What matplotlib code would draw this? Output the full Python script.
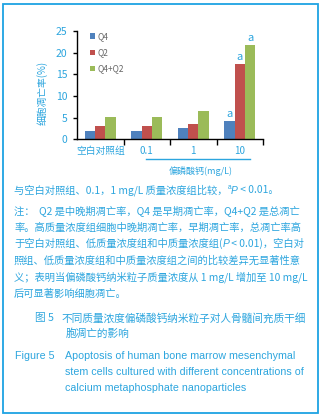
import matplotlib
matplotlib.use('Agg')
import matplotlib.pyplot as plt
import numpy as np

plt.rcParams['font.family'] = ['Noto Sans CJK SC', 'DejaVu Sans']

groups = ['空白对照组', '0.1', '1', '10']
series = ['Q4', 'Q2', 'Q4+Q2']
q4 = [2.0, 1.9, 2.7, 4.2]
q2 = [3.0, 3.0, 3.6, 17.3]
total = [5.2, 5.2, 6.6, 21.7]
y_ticks = [0, 5, 10, 15, 20, 25]
sig_marks = [(3, 0), (3, 1), (3, 2)]  # (group, series) with "a"

blue = '#2ca5de'
colors = ['#4f81bd', '#c0504d', '#9bbb59']

W, H = 322, 416
fig = plt.figure(figsize=(W / 100, H / 100), dpi=100)

# background layer in pixel coordinates
bg = fig.add_axes([0, 0, 1, 1])
bg.set_xlim(0, W)
bg.set_ylim(H, 0)
bg.axis('off')
bg.add_patch(plt.Rectangle((3, 3.5), 315.5, 409.5, fill=False,
                           edgecolor='#1ea3e3', linewidth=1.3))

ax = fig.add_axes([77 / W, 1 - 139.3 / H, 186 / W, 108.3 / H])
x = np.arange(len(groups))
bw = 0.224
vals = [q4, q2, total]
for i, (name, v) in enumerate(zip(series, vals)):
    ax.bar(x + (i - 1) * bw, v, bw, color=colors[i], label=name)
for g, s in sig_marks:
    ax.text(x[g] + (s - 1) * bw, vals[s][g] + 0.6, 'a', ha='center',
            va='bottom', color=blue, fontsize=8)

ax.set_xlim(-0.5, 3.5)
ax.set_ylim(0, 25)
ax.set_yticks(y_ticks)
ax.set_yticklabels([str(t) for t in y_ticks], color=blue, fontsize=7.5)
ax.set_xticks(x)
ax.set_xticklabels(groups, color=blue, fontsize=7)
ax.set_xticks(np.arange(0.5, 4, 1), minor=True)
ax.tick_params(axis='x', which='major', length=0, pad=5)
ax.tick_params(axis='x', which='minor', length=4, width=1, direction='out')
ax.tick_params(axis='y', length=3, width=1, direction='out', pad=4)
for sp in ['top', 'right']:
    ax.spines[sp].set_visible(False)
for sp in ['left', 'bottom']:
    ax.spines[sp].set_linewidth(1)
ax.set_ylabel('细胞凋亡率(%)', color=blue, fontsize=7)
ax.yaxis.set_label_coords(-0.16, 0.43)

leg = ax.legend(loc='upper left', bbox_to_anchor=(0.03, 1.06), frameon=False,
                fontsize=6, handlelength=0.6, handleheight=0.6,
                handletextpad=0.3, labelspacing=0.85)
for t in leg.get_texts():
    t.set_color('#666666')

# x-axis group line and title
bg.plot([146, 250], [158.5, 158.5], color=blue, linewidth=1)
bg.text(201, 171, '偏磷酸钙(mg/L)', color=blue, fontsize=6.5,
        ha='center', va='center')

fig.canvas.draw()
renderer = fig.canvas.get_renderer()


def runs(x0, y0, parts, size):
    xc = x0
    for txt, kind in parts:
        kw = dict(color=blue, fontsize=size, ha='left', va='baseline')
        yy = y0
        if kind == 'i':
            kw.update(family='Liberation Sans', style='italic')
        elif kind == 's':
            kw.update(family='Liberation Sans', fontsize=size * 0.65)
            yy = y0 - size * 0.55
        t = bg.text(xc, yy, txt, **kw)
        xc += t.get_window_extent(renderer).width


fs = 7.4
runs(14, 193.5, [('与空白对照组、0.1，1 mg/L 质量浓度组比较，', ''), ('a', 's'),
                 ('P', 'i'), (' < 0.01。', '')], fs)

notes = [
    [('注：  Q2 是中晚期凋亡率，Q4 是早期凋亡率，Q4+Q2 是总凋亡', '')],
    [('率。高质量浓度组细胞中晚期凋亡率，早期凋亡率，总凋亡率高', '')],
    [('于空白对照组、低质量浓度组和中质量浓度组(', ''), ('P', 'i'),
     (' < 0.01)，空白对', '')],
    [('照组、低质量浓度组和中质量浓度组之间的比较差异无显著性意', '')],
    [('义；表明当偏磷酸钙纳米粒子质量浓度从 1 mg/L 增加至 10 mg/L', '')],
    [('后可显著影响细胞凋亡。', '')],
]
for k, parts in enumerate(notes):
    runs(14, 214.5 + k * 16.4, parts, fs)

cap = 7.7
runs(35, 321.5, [('图 5', '')], cap)
runs(62, 321.5, [('不同质量浓度偏磷酸钙纳米粒子对人骨髓间充质干细', '')], cap)
runs(66, 336.5, [('胞凋亡的影响', '')], cap)

en = dict(color=blue, fontsize=7.7, family='Liberation Sans', ha='left',
          va='baseline')
bg.text(15, 359, 'Figure 5', **en)
en_lines = ['Apoptosis of human bone marrow mesenchymal',
            'stem cells cultured with different concentrations of',
            'calcium metaphosphate nanoparticles']
for k, line in enumerate(en_lines):
    bg.text(65, 359 + k * 16.2, line, **en)

fig.savefig('out.png', dpi=100)
